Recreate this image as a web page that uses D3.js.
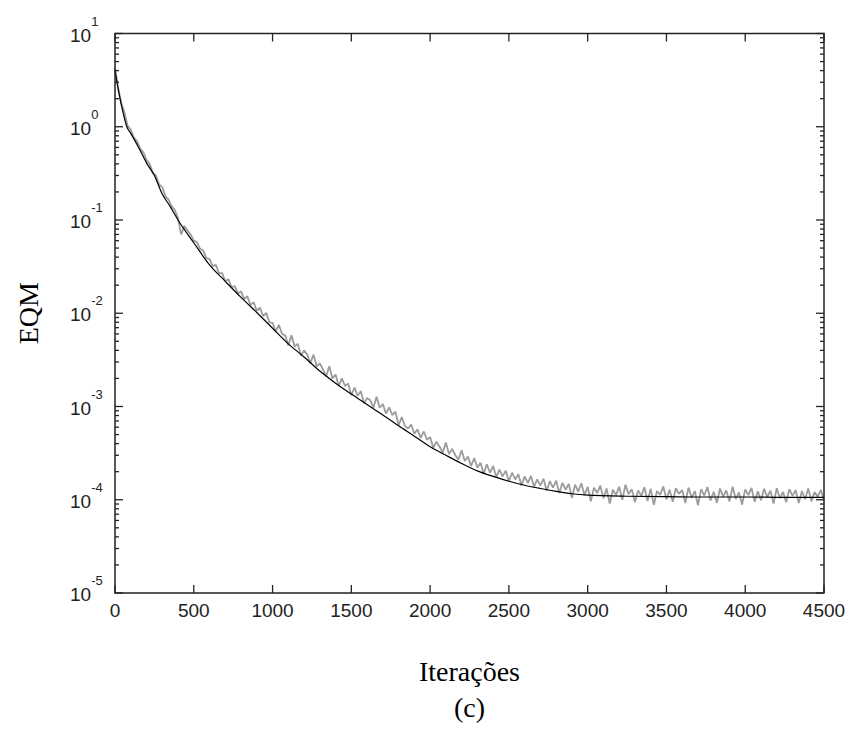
<!DOCTYPE html>
<html>
<head>
<meta charset="utf-8">
<script src="https://d3js.org/d3.v7.min.js"></script>
<style>
  body { margin: 0; background: #fff; }
</style>
</head>
<body>
<div id="chart"></div>
<script>
//mean squared error per iteration
//black curve = smooth average, grey curve = single noisy run
var meanIter = [0, 25, 50, 75, 100, 150, 200, 250, 300, 350, 400, 500, 600, 700, 800, 900, 1000,
  1100, 1200, 1300, 1400, 1500, 1600, 1700, 1800, 1900, 2000, 2100, 2200, 2300, 2400, 2500, 2600,
  2700, 2800, 2900, 3000, 3250, 3500, 3750, 4000, 4250, 4500];
var meanMse = [4.0, 2.3, 1.45, 1.0, 0.85, 0.6, 0.41, 0.3, 0.19, 0.14, 0.1, 0.057, 0.033, 0.022,
  0.0148, 0.0102, 0.0069, 0.0047, 0.0034, 0.0024, 0.00178, 0.00136, 0.00105, 0.00081, 0.00062,
  0.00048, 0.00037, 0.0003, 0.000245, 0.000204, 0.000178, 0.000158, 0.000143, 0.000132, 0.000123,
  0.000116, 0.000112, 0.000109, 0.000108, 0.000107, 0.000107, 0.000106, 0.000106];

//the noisy run, one value every 20 iterations (0 .. 4500), one row = 200 iterations
var runStep = 20;
var runMse = [
  4.3, 2.6, 1.8, 1.42, 1.02, 0.93, 0.76, 0.7, 0.58, 0.53,
  0.44, 0.40, 0.32, 0.30, 0.24, 0.225, 0.18, 0.165, 0.14, 0.128,
  0.104, 0.07, 0.086, 0.077, 0.07, 0.06, 0.058, 0.049, 0.047, 0.039,
  0.038, 0.032, 0.033, 0.027, 0.027, 0.022, 0.0232, 0.019, 0.0195, 0.0163,
  0.0172, 0.0142, 0.0152, 0.0123, 0.0131, 0.0106, 0.0115, 0.0093, 0.0101, 0.0080,
  0.0079, 0.0064, 0.0075, 0.0060, 0.0058, 0.0045, 0.0058, 0.0044, 0.0047, 0.0035,
  0.0040, 0.0036, 0.0029, 0.0036, 0.0027, 0.0029, 0.0025, 0.0021, 0.0027, 0.0020,
  0.0022, 0.00166, 0.002, 0.00166, 0.00176, 0.00132, 0.0016, 0.0013, 0.00147, 0.00108,
  0.00123, 0.00117, 0.00097, 0.00127, 0.00097, 0.00106, 0.00084, 0.00098, 0.00081, 0.00088,
  0.00063, 0.00077, 0.00062, 0.00058, 0.00064, 0.00051, 0.00057, 0.00046, 0.00054, 0.00044,
  0.00047, 0.00036, 0.00042, 0.00037, 0.00032, 0.00041, 0.00031, 0.00035, 0.0003, 0.00027,
  0.00034, 0.00026, 0.00029, 0.00023, 0.00028, 0.00022, 0.00025, 0.00019, 0.00024, 0.000195,
  0.00023, 0.000175, 0.00021, 0.000178, 0.000205, 0.000158, 0.000195, 0.000165, 0.000188, 0.000142,
  0.000178, 0.000151, 0.00018, 0.000138, 0.000165, 0.000142, 0.000168, 0.000125, 0.000158, 0.000135,
  0.00016, 0.000118, 0.000152, 0.000128, 0.000148, 0.000105, 0.000145, 0.000122, 0.00015, 0.000112,
  0.000138, 0.000096, 0.000135, 0.000118, 0.000142, 0.000104, 0.000132, 0.000091, 0.000128, 0.000112,
  0.000138, 0.0001, 0.000145, 0.000115, 0.00013, 0.000094, 0.000126, 0.00011, 0.000136, 0.000097,
  0.000131, 0.000088, 0.000124, 0.000113, 0.000139, 0.000101, 0.000128, 0.000095, 0.000133, 0.000116,
  0.000127, 0.000092, 0.000135, 0.000105, 0.000124, 0.000087, 0.00013, 0.000111, 0.000137, 0.000098,
  0.000122, 0.000093, 0.000132, 0.000108, 0.000126, 0.000096, 0.000138, 0.000102, 0.00012, 0.000089,
  0.000129, 0.000112, 0.000134, 0.000095, 0.000123, 0.000099, 0.000131, 0.000107, 0.000125, 0.000091,
  0.000133, 0.000104, 0.000121, 0.000094, 0.00013, 0.00011, 0.000127, 0.000092, 0.000124, 0.000101,
  0.000132, 0.000096, 0.000121, 0.000108, 0.000128, 0.000098];

//axis ticks and labels
var xTicks = [0, 500, 1000, 1500, 2000, 2500, 3000, 3500, 4000, 4500];
var yExponents = [1, 0, -1, -2, -3, -4, -5];
var xTitle = "Iterações";
var yTitle = "EQM";
var caption = "(c)";

//page size and the box of the plot
var width = 851;
var height = 731;
var margin = { top: 33.5, bottom: 138, left: 115, right: 27 };

var svg = d3.select('#chart')
  .append('svg')
  .attr('width', width)
  .attr('height', height);

var x = d3.scaleLinear()
  .domain([0, 4500])
  .range([margin.left, width - margin.right]);

var y = d3.scaleLog()
  .domain([1e-5, 10])
  .range([height - margin.bottom, margin.top]);

var x0 = x.range()[0], x1 = x.range()[1];
var y0 = y.range()[0], y1 = y.range()[1];

//grey noisy run first so the black mean sits on top
var line = d3.line()
  .x(d => x(d[0]))
  .y(d => y(d[1]));

svg.append("path")
  .datum(runMse.map((v, i) => [i * runStep, v]))
  .attr("fill", "none")
  .attr("stroke", "#9c9c9c")
  .attr("stroke-width", 1.8)
  .attr("stroke-linejoin", "bevel")
  .attr("d", line);

svg.append("path")
  .datum(meanIter.map((v, i) => [v, meanMse[i]]))
  .attr("fill", "none")
  .attr("stroke", "#000")
  .attr("stroke-width", 1.2)
  .attr("d", line.curve(d3.curveMonotoneX));

//ticks point inwards on all four sides, like matlab
var minor = [];
yExponents.forEach(function(e) {
  if (e > -5) {
    for (var k = 2; k < 10; k++) minor.push(k * Math.pow(10, e - 1));
  }
});

var ticks = svg.append("g")
  .attr("stroke", "#222")
  .attr("stroke-width", 1.3);

xTicks.forEach(function(t) {
  ticks.append("line").attr("x1", x(t)).attr("x2", x(t)).attr("y1", y0).attr("y2", y0 - 8);
  ticks.append("line").attr("x1", x(t)).attr("x2", x(t)).attr("y1", y1).attr("y2", y1 + 8);
});

yExponents.forEach(function(e) {
  var v = Math.pow(10, e);
  ticks.append("line").attr("x1", x0).attr("x2", x0 + 8).attr("y1", y(v)).attr("y2", y(v));
  ticks.append("line").attr("x1", x1).attr("x2", x1 - 8).attr("y1", y(v)).attr("y2", y(v));
});

minor.forEach(function(v) {
  ticks.append("line").attr("x1", x0).attr("x2", x0 + 4).attr("y1", y(v)).attr("y2", y(v));
  ticks.append("line").attr("x1", x1).attr("x2", x1 - 4).attr("y1", y(v)).attr("y2", y(v));
});

//the frame
svg.append("rect")
  .attr("x", x0)
  .attr("y", y1)
  .attr("width", x1 - x0)
  .attr("height", y0 - y1)
  .attr("fill", "none")
  .attr("stroke", "#222")
  .attr("stroke-width", 1.5);

//tick labels
svg.append("g")
  .attr("font-family", "Liberation Sans, Arial, sans-serif")
  .attr("font-size", "19px")
  .attr("fill", "#222")
  .attr("text-anchor", "middle")
  .selectAll("text")
  .data(xTicks)
  .join("text")
  .attr("x", d => x(d))
  .attr("y", y0 + 24)
  .text(d => d);

var yLab = svg.append("g")
  .attr("font-family", "Liberation Sans, Arial, sans-serif")
  .attr("fill", "#222")
  .selectAll("text")
  .data(yExponents)
  .join("text")
  .attr("x", x0 - 45)
  .attr("y", d => y(Math.pow(10, d)) + 8)
  .attr("font-size", "19px");

yLab.append("tspan").text("10");
yLab.append("tspan")
  .attr("dy", -16)
  .attr("font-size", "13px")
  .text(d => d);

//titles in serif like the paper
svg.append("text")
  .attr("transform", "translate(38," + ((y0 + y1) / 2) + ") rotate(-90)")
  .attr("text-anchor", "middle")
  .attr("font-family", "Liberation Serif, Times New Roman, serif")
  .attr("font-size", "28px")
  .text(yTitle);

svg.append("text")
  .attr("x", (x0 + x1) / 2)
  .attr("y", 681)
  .attr("text-anchor", "middle")
  .attr("font-family", "Liberation Serif, Times New Roman, serif")
  .attr("font-size", "28px")
  .text(xTitle);

svg.append("text")
  .attr("x", (x0 + x1) / 2)
  .attr("y", 717)
  .attr("text-anchor", "middle")
  .attr("font-family", "Liberation Serif, Times New Roman, serif")
  .attr("font-size", "28px")
  .text(caption);
</script>
</body>
</html>
